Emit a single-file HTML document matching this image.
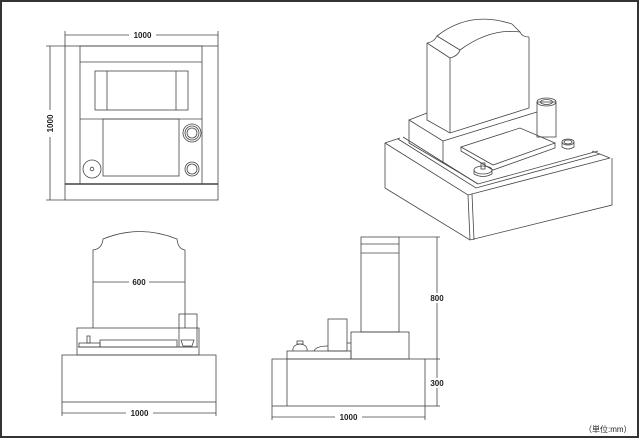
<!DOCTYPE html>
<html><head><meta charset="utf-8"><style>
html,body{margin:0;padding:0;background:#fff;}
svg{display:block;}
text{font-family:"Liberation Sans",Arial,sans-serif;font-size:8px;font-weight:bold;fill:#222;}
</style></head><body>
<svg width="640" height="440" viewBox="0 0 640 440" xmlns="http://www.w3.org/2000/svg">
<rect x="1" y="1" width="637" height="436" fill="#fff" stroke="#333" stroke-width="2"/>
<g fill="none" stroke="#444" stroke-width="0.8">
<!-- plan view -->
<rect x="65" y="46" width="153" height="154"/>
<rect x="80" y="46" width="122" height="138"/>
<line x1="80" y1="62" x2="202" y2="62"/>
<line x1="65" y1="184" x2="218" y2="184" stroke-width="1.4"/>
<rect x="95" y="71" width="93" height="39"/>
<line x1="107" y1="71" x2="107" y2="110"/><line x1="176" y1="71" x2="176" y2="110"/>
<line x1="80" y1="119" x2="202" y2="119"/>
<rect x="103" y="119" width="76" height="57"/>
<circle cx="192" cy="133" r="9"/><circle cx="192" cy="133" r="7"/><circle cx="192" cy="133" r="5"/>
<circle cx="192" cy="169" r="7"/><circle cx="192" cy="169" r="5"/>
<circle cx="92" cy="169" r="9"/><circle cx="92" cy="169" r="1.8"/>
<line x1="65" y1="35" x2="218" y2="35"/>
<line x1="65" y1="31" x2="65" y2="46"/><line x1="218" y1="31" x2="218" y2="46"/>
<line x1="50" y1="46" x2="50" y2="200"/>
<line x1="46" y1="46" x2="65" y2="46"/><line x1="46" y1="200" x2="65" y2="200"/>
<!-- front view -->
<path d="M93,328 V250 Q102,249 103,239 Q140,224 177,239 Q178,249 185,250 V328"/>
<line x1="93" y1="282" x2="185" y2="282"/>
<rect x="77" y="328" width="122" height="27"/>
<line x1="78" y1="347" x2="198" y2="347"/>
<rect x="100" y="340" width="77" height="7"/>
<rect x="79" y="343" width="21" height="4"/>
<rect x="87" y="336" width="3" height="7"/>
<rect x="179" y="314" width="18" height="33"/>
<path d="M181,340 H194 L192,346 H183 Z"/>
<rect x="62" y="355" width="154" height="47"/>
<line x1="62" y1="413" x2="216" y2="413"/>
<line x1="62" y1="402" x2="62" y2="416"/><line x1="216" y1="402" x2="216" y2="416"/>
<!-- side view -->
<rect x="361" y="237" width="38" height="95"/>
<line x1="361" y1="244" x2="399" y2="244"/><line x1="361" y1="253" x2="399" y2="253"/>
<rect x="351" y="332" width="58" height="27"/>
<rect x="272" y="359" width="153" height="47"/>
<line x1="287" y1="359" x2="287" y2="406"/>
<rect x="287" y="351" width="64" height="8"/>
<rect x="328" y="319" width="19" height="32"/>
<path d="M293,351 Q292,345 300,344 Q308,345 307,351"/>
<rect x="297" y="341" width="6" height="3"/>
<path d="M314,351 Q316,346 328,346"/>
<line x1="347" y1="343" x2="351" y2="343"/>
<line x1="399" y1="237" x2="440" y2="237"/>
<line x1="437" y1="237" x2="437" y2="406"/>
<line x1="425" y1="359" x2="440" y2="359"/>
<line x1="425" y1="406" x2="440" y2="406"/>
<line x1="272" y1="417" x2="425" y2="417"/>
<line x1="272" y1="406" x2="272" y2="420"/><line x1="425" y1="406" x2="425" y2="420"/>
<!-- isometric -->
<path d="M385,143 L468,195 L610,158 M385,143 V188 L470,240 L612,205 V158"/>
<line x1="468" y1="195" x2="470" y2="240"/>
<line x1="472" y1="194" x2="474" y2="240"/>
<path d="M385,143 L400,138 M610,158 L592,151"/>
<path d="M398,139 L476,188 L600,154"/>
<path d="M403,137 L478,184 L598,151"/>
<path d="M409,120 V143 L443,163 V141 Z"/>
<path d="M409,120 L427,113 M443,141 L537,112"/>
<path d="M443,163 L460,173"/>
<path d="M461,147 L493,165 L555,143 L520,128 Z"/>
<path d="M461,147 V151 L493,170 L555,148 V143"/>
<path d="M460,173 L478,184"/>
<path d="M427,43 V120 L450,133 L529,108 V37"/>
<path d="M450,58 V133"/>
<path d="M427,43 Q434,42 437,36 Q470,10 512,24"/>
<path d="M450,58 Q458,56 460,50 Q490,28 520,32 Q522,37 529,37"/>
<path d="M427,43 L450,58 M437,36 L460,50 M512,24 L520,32"/>
<rect x="537" y="102" width="19" height="35"/>
<ellipse cx="546.5" cy="102" rx="9.5" ry="4"/><ellipse cx="546.5" cy="102" rx="6" ry="2.5"/>
<ellipse cx="568" cy="142" rx="6" ry="3"/><ellipse cx="568" cy="142" rx="4" ry="2"/>
<path d="M562,142 V147 Q568,151 574,147 V142"/>
<ellipse cx="483" cy="170" rx="9" ry="4"/>
<path d="M474,170 V174 Q483,179 492,174 V170"/>
<rect x="481" y="163" width="4" height="6"/>
</g>
<g>
<rect x="129" y="30" width="27" height="10" fill="#fff"/>
<text x="142.5" y="38" text-anchor="middle">1000</text>
<rect x="45" y="110" width="10" height="27" fill="#fff"/>
<text x="53" y="123.5" text-anchor="middle" transform="rotate(-90 53 123.5)">1000</text>
<rect x="129" y="277" width="20" height="10" fill="#fff"/>
<text x="139" y="285" text-anchor="middle">600</text>
<rect x="126" y="408" width="27" height="10" fill="#fff"/>
<text x="139.5" y="416" text-anchor="middle">1000</text>
<rect x="427" y="293" width="20" height="10" fill="#fff"/>
<text x="437" y="301" text-anchor="middle">800</text>
<rect x="427" y="378" width="20" height="10" fill="#fff"/>
<text x="437" y="386" text-anchor="middle">300</text>
<rect x="335" y="412" width="27" height="10" fill="#fff"/>
<text x="348.5" y="420" text-anchor="middle">1000</text>
<text x="584" y="432" style="font-weight:normal;font-family:'Liberation Sans','Noto Sans CJK JP',sans-serif;font-size:8px">（単位:mm）</text>
</g>
</svg>
</body></html>
